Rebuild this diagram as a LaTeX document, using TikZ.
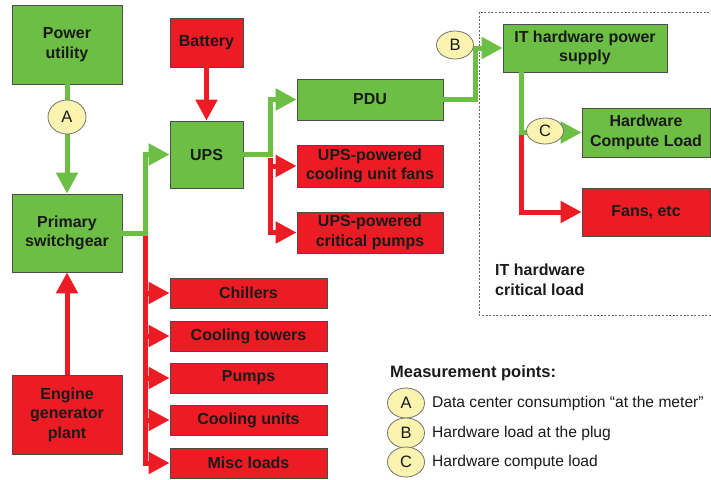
\documentclass[tikz,border=0pt]{standalone}
\usepackage{fontspec}
\setmainfont{Liberation Sans}
\usetikzlibrary{arrows.meta,shapes.geometric,positioning}
\definecolor{gfill}{HTML}{6CBE45}
\definecolor{rfill}{HTML}{ED1C24}
\definecolor{efill}{HTML}{FBF3B0}
\definecolor{tcol}{HTML}{1A1A1A}
\tikzset{
  box/.style={draw=black!70, line width=0.8pt, align=center, inner sep=0pt,
    font=\fontsize{16}{19.5}\selectfont\bfseries, text=tcol},
  gbox/.style={box, fill=gfill},
  rbox/.style={box, fill=rfill},
  meas/.style={ellipse, draw=black!55, line width=0.8pt, fill=efill, inner sep=0pt,
    minimum width=37pt, minimum height=28pt, font=\fontsize{16.5}{16.5}\selectfont, text=tcol},
  gline/.style={draw=gfill, line width=5pt},
  rline/.style={draw=rfill, line width=5pt},
  garrow/.style={gline, -{Triangle[length=21pt,width=21pt]}},
  rarrow/.style={rline, -{Triangle[length=21pt,width=21pt]}},
  legtext/.style={anchor=west, font=\fontsize{15.6}{19}\selectfont, text=tcol, inner sep=0pt}
}
\begin{document}
\begin{tikzpicture}[x=1pt,y=-1pt]
\clip (0,0) rectangle (711,479);
\fill[white] (0,0) rectangle (711,479);

% dashed IT region
\draw[black!60, line width=0.8pt, dash pattern=on 2pt off 1.6pt] (479,12) rectangle (716,315);

% nodes
\node[gbox, minimum width=110pt, minimum height=79pt] (pu) at (67,44.5) {Power\\utility};
\node[gbox, minimum width=110pt, minimum height=78pt] (sw) at (67,233) {Primary\\switchgear};
\node[rbox, minimum width=110pt, minimum height=79pt] (eg) at (67,414.5) {Engine\\generator\\plant};
\node[rbox, minimum width=73pt, minimum height=49pt] (bat) at (206.5,42.5) {Battery};
\node[gbox, minimum width=73pt, minimum height=67pt] (ups) at (206.5,154.5) {UPS};
\node[gbox, minimum width=146pt, minimum height=41pt] (pdu) at (370,99.5) {PDU};
\node[rbox, minimum width=146pt, minimum height=42pt] (ufans) at (370,166) {UPS-powered\\cooling unit fans};
\node[rbox, minimum width=146pt, minimum height=41pt] (upumps) at (370,232.5) {UPS-powered\\critical pumps};
\node[rbox, minimum width=157pt, minimum height=30pt] (chill) at (248.5,293) {Chillers};
\node[rbox, minimum width=157pt, minimum height=30pt] (ctow) at (248.5,336) {Cooling towers};
\node[rbox, minimum width=157pt, minimum height=30pt] (pumps) at (248.5,378) {Pumps};
\node[rbox, minimum width=157pt, minimum height=30pt] (cunits) at (248.5,420) {Cooling units};
\node[rbox, minimum width=157pt, minimum height=30pt] (misc) at (248.5,463) {Misc loads};
\node[gbox, minimum width=164pt, minimum height=48pt] (itps) at (585,48) {IT hardware power\\supply};
\node[gbox, minimum width=128pt, minimum height=49pt] (hcl) at (646,132.5) {Hardware\\Compute Load};
\node[rbox, minimum width=128pt, minimum height=48pt] (fans) at (646,212) {Fans, etc};

\node[anchor=north west, align=left, inner sep=0pt, font=\fontsize{16}{19.5}\selectfont\bfseries, text=tcol] (itlabel) at (495,264) {IT hardware\\critical load};

% junction coordinates
\coordinate (j1) at ([xshift=23pt]sw.east);
\coordinate (j1r) at ([xshift=23pt,yshift=-3pt]sw.east);
\coordinate (j2) at ([xshift=27pt]ups.east);
\coordinate (j2r) at ([xshift=27pt,yshift=-3pt]ups.east);
\coordinate (j3) at ([xshift=32pt]pdu.east);
\coordinate (j4) at ([xshift=19pt]itps.south west);
\coordinate (j4r) at ([xshift=19pt,yshift=-62pt]itps.south west);

% red connectors
\draw[rarrow] (eg.north) -- (sw.south);
\draw[rarrow] (bat.south) -- (ups.north);
\draw[rarrow] (j1r) |- (chill.west);
\draw[rarrow] (j1r) |- (ctow.west);
\draw[rarrow] (j1r) |- (pumps.west);
\draw[rarrow] (j1r) |- (cunits.west);
\draw[rarrow] (j1r) |- (misc.west);
\draw[rarrow] (j2r) |- (ufans.west);
\draw[rarrow] (j2r) |- (upumps.west);
\draw[rarrow] (j4r) |- (fans.west);

% green connectors
\draw[garrow] (pu.south) -- (sw.north);
\draw[garrow] (sw.east) -- (j1) |- (ups.west);
\draw[garrow] (ups.east) -- (j2) |- (pdu.west);
\draw[garrow] (pdu.east) -- (j3) |- (itps.west);
\draw[garrow] (j4) |- (hcl.west);

% measurement points
\node[meas, minimum height=34pt, minimum width=38pt] (mA) at (67,117) {A};
\node[meas] (mB) at (455,45) {B};
\node[meas, minimum height=26pt] (mC) at (545,131) {C};

% legend
\node[anchor=west, inner sep=0pt, font=\fontsize{16.5}{19}\selectfont\bfseries, text=tcol] (legtitle) at (390,373) {Measurement points:};
\node[meas, minimum height=30pt] (lA) at (406,403) {A};
\node[meas, minimum height=30pt] (lB) at (406,433) {B};
\node[meas, minimum height=30pt] (lC) at (406,462) {C};
\node[legtext] (tA) at (432,403) {Data center consumption “at the meter”};
\node[legtext] (tB) at (432,433) {Hardware load at the plug};
\node[legtext] (tC) at (432,462) {Hardware compute load};
\end{tikzpicture}
\end{document}
